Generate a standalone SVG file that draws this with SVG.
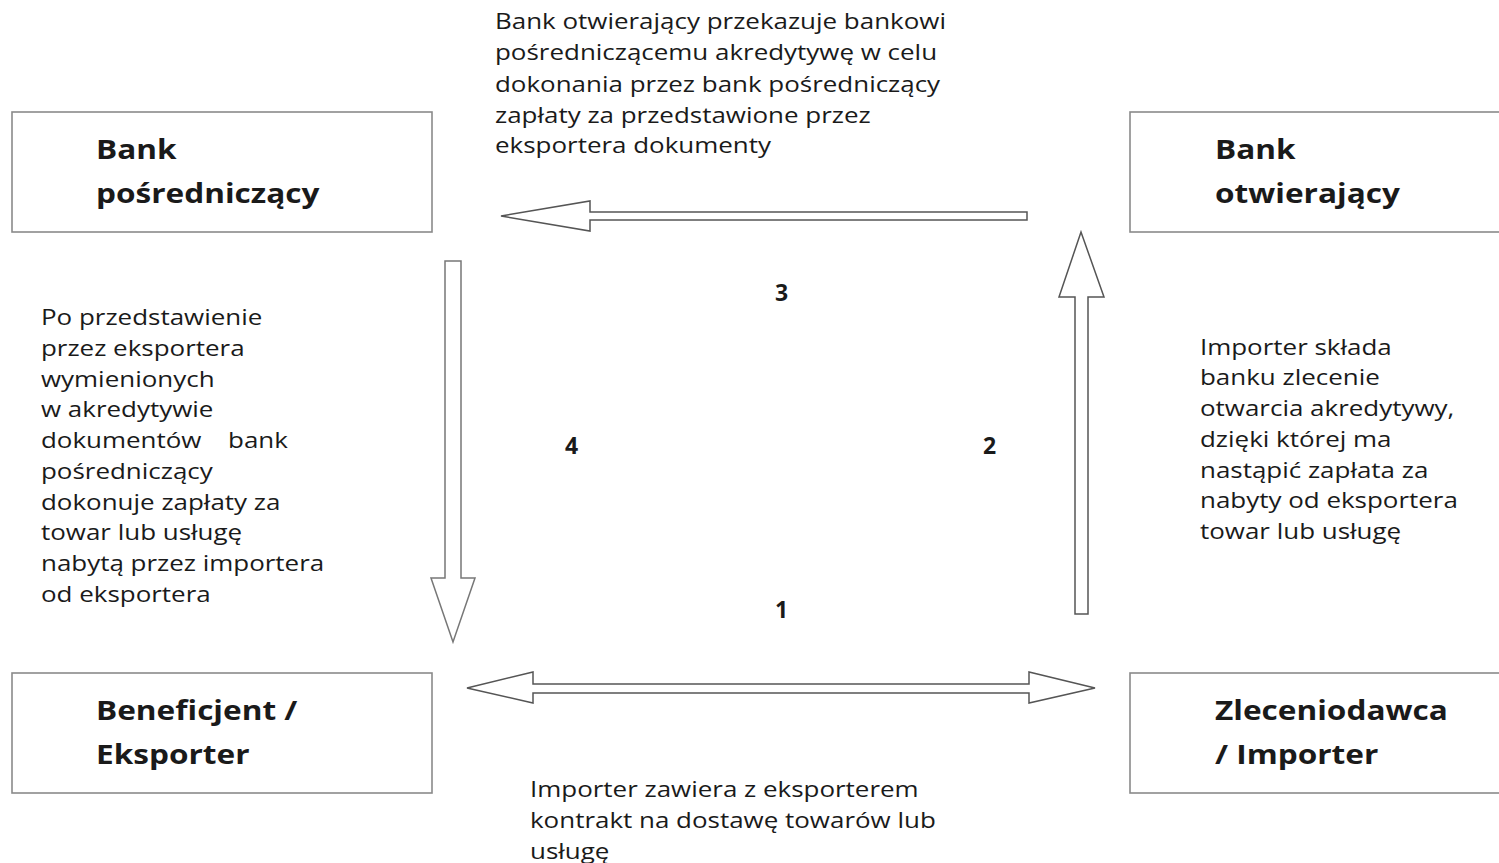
<svg xmlns="http://www.w3.org/2000/svg" width="1499" height="863" viewBox="0 0 1499 863">
<style>
.box{fill:#fff;stroke:#8a8a8a;stroke-width:1.6}
.lbl{font-family:"Open Sans","Noto Sans",sans-serif;font-weight:bold;font-size:27px;fill:#1a1a1a}
.txt{font-family:"Open Sans","Noto Sans",sans-serif;font-size:22px;fill:#1a1a1a}
.num{font-family:"Open Sans","Noto Sans",sans-serif;font-weight:bold;font-size:23px;fill:#1a1a1a}
.arr{fill:#fff;stroke:#555;stroke-width:1.5;stroke-linejoin:miter}
</style>
<rect width="1499" height="863" fill="#fff"/>
<g id="bank-posredniczacy">
<rect class="box" x="12" y="112" width="420" height="120"/>
<g transform="matrix(1.17,0,0,1,-16.32,0)">
<text class="lbl" x="96" y="159">Bank</text>
<text class="lbl" x="96" y="203">pośredniczący</text>
</g>
</g>
<g id="bank-otwierajacy">
<rect class="box" x="1130" y="112" width="380" height="120"/>
<g transform="matrix(1.17,0,0,1,-206.55,0)">
<text class="lbl" x="1215" y="159">Bank</text>
<text class="lbl" x="1215" y="203">otwierający</text>
</g>
</g>
<g id="beneficjent">
<rect class="box" x="12" y="673" width="420" height="120"/>
<g transform="matrix(1.17,0,0,1,-16.32,0)">
<text class="lbl" x="96" y="720">Beneficjent /</text>
<text class="lbl" x="96" y="764">Eksporter</text>
</g>
</g>
<g id="zleceniodawca">
<rect class="box" x="1130" y="673" width="380" height="120"/>
<g transform="matrix(1.17,0,0,1,-206.55,0)">
<text class="lbl" x="1215" y="720">Zleceniodawca</text>
<text class="lbl" x="1215" y="764">/ Importer</text>
</g>
</g>
<g id="connectors">
<path id="arrow3" class="arr" d="M1027,212 L590,212 L590,201 L501,216 L590,231 L590,220 L1027,220 Z"/>
<path id="arrow4" class="arr" style="stroke:#777" d="M445,261 L461,261 L461,578 L475,578 L453,642 L431,578 L445,578 Z"/>
<path id="arrow2" class="arr" d="M1075,614 L1075,297 L1059,297 L1081,232 L1104,297 L1088,297 L1088,614 Z"/>
<path id="arrow1" class="arr" d="M467,688 L533,672 L533,684 L1029,684 L1029,672 L1095,688 L1029,703 L1029,693 L533,693 L533,703 Z"/>
</g>
<g id="labels">
<text class="num" x="775" y="301">3</text>
<text class="num" x="565" y="454">4</text>
<text class="num" x="983" y="454">2</text>
<text class="num" x="775" y="618">1</text>
</g>
<g id="text-top" class="txt" transform="matrix(1.18,0,0,1,-89.1,0)">
<text x="495" y="29">Bank otwierający przekazuje bankowi</text>
<text x="495" y="60">pośredniczącemu akredytywę w celu</text>
<text x="495" y="92">dokonania przez bank pośredniczący</text>
<text x="495" y="123">zapłaty za przedstawione przez</text>
<text x="495" y="153">eksportera dokumenty</text>
</g>
<g id="text-left" class="txt" transform="matrix(1.18,0,0,1,-7.38,0)">
<text x="41" y="325">Po przedstawienie</text>
<text x="41" y="356">przez eksportera</text>
<text x="41" y="387">wymienionych</text>
<text x="41" y="417">w akredytywie</text>
<text x="41" y="448">dokumentów</text>
<text x="199.5" y="448">bank</text>
<text x="41" y="479">pośredniczący</text>
<text x="41" y="510">dokonuje zapłaty za</text>
<text x="41" y="540">towar lub usługę</text>
<text x="41" y="571">nabytą przez importera</text>
<text x="41" y="602">od eksportera</text>
</g>
<g id="text-right" class="txt" transform="matrix(1.18,0,0,1,-216,0)">
<text x="1200" y="355">Importer składa</text>
<text x="1200" y="385">banku zlecenie</text>
<text x="1200" y="416">otwarcia akredytywy,</text>
<text x="1200" y="447">dzięki której ma</text>
<text x="1200" y="478">nastąpić zapłata za</text>
<text x="1200" y="508">nabyty od eksportera</text>
<text x="1200" y="539">towar lub usługę</text>
</g>
<g id="text-bottom" class="txt" transform="matrix(1.18,0,0,1,-95.4,0)">
<text x="530" y="797">Importer zawiera z eksporterem</text>
<text x="530" y="828">kontrakt na dostawę towarów lub</text>
<text x="530" y="859">usługę</text>
</g>
</svg>
